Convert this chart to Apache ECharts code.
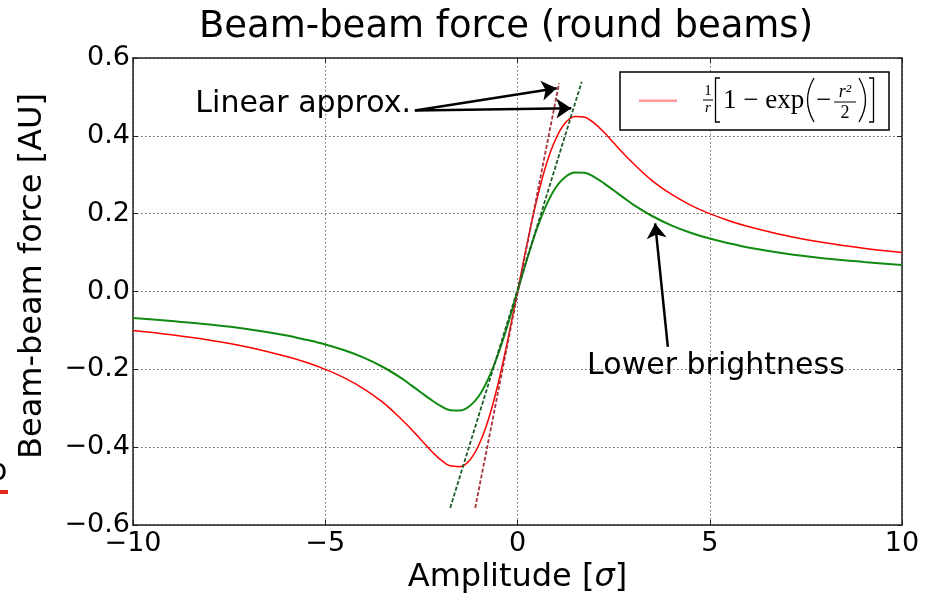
<!DOCTYPE html>
<html><head><meta charset="utf-8">
<script src="https://cdn.jsdelivr.net/npm/echarts@6/dist/echarts.min.js"></script>
<style>html,body{margin:0;padding:0;background:#fff}#c{width:926px;height:600px}</style>
</head><body><div id="c"></div>
<script>
// Amplitude [sigma]
const amplitude = [-10,-9,-8,-7,-6,-5.5,-5,-4.5,-4,-3.5,-3,-2.75,-2.5,-2.25,-2,-1.75,-1.5,-1.25,-1,-0.75,-0.5,-0.25,0,0.25,0.5,0.75,1,1.25,1.5,1.75,2,2.25,2.5,2.75,3,3.5,4,4.5,5,5.5,6,7,8,9,10];
// nominal beam-beam force (red)
const forceNominal = [-0.100,-0.111,-0.125,-0.143,-0.167,-0.182,-0.200,-0.222,-0.250,-0.285,-0.330,-0.355,-0.382,-0.409,-0.432,-0.448,-0.450,-0.434,-0.393,-0.327,-0.235,-0.123,0,0.123,0.235,0.327,0.393,0.434,0.450,0.448,0.432,0.409,0.382,0.355,0.330,0.285,0.250,0.222,0.200,0.182,0.167,0.143,0.125,0.111,0.100];
// lower brightness (green)
const forceLower = [-0.068,-0.076,-0.085,-0.097,-0.113,-0.124,-0.136,-0.151,-0.170,-0.194,-0.224,-0.242,-0.260,-0.278,-0.294,-0.305,-0.306,-0.295,-0.268,-0.222,-0.160,-0.084,0,0.084,0.160,0.222,0.268,0.295,0.306,0.305,0.294,0.278,0.260,0.242,0.224,0.194,0.170,0.151,0.136,0.124,0.113,0.097,0.085,0.076,0.068];
// linear approximations (dashed)
const linNominalX = [-1.10, 1.08];
const linNominalY = [-0.556, 0.535];
const linLowerX = [-1.75, 1.67];
const linLowerY = [-0.556, 0.539];
// ticks
const xTicks = [-10, -5, 0, 5, 10];
const xTickLabels = ['\u221210', '\u22125', '0', '5', '10'];
const yTicks = [-0.6, -0.4, -0.2, 0, 0.2, 0.4, 0.6];
const yTickLabels = ['\u22120.6', '\u22120.4', '\u22120.2', '0.0', '0.2', '0.4', '0.6'];

const zip = (xs, ys) => xs.map((x, i) => [x, ys[i]]);
const lab = (ticks, labels) => v => { const i = ticks.findIndex(t => Math.abs(t - v) < 1e-9); return i >= 0 ? labels[i] : ''; };

const FONT = 'DejaVu Sans';
const chart = echarts.init(document.getElementById('c'), null, {renderer: 'canvas'});
const axisLine = {show: true, onZero: false, lineStyle: {color: '#222', width: 1.5}};
const tick = {show: true, inside: true, length: 5, lineStyle: {color: '#222', width: 1}};
const split = {show: true, lineStyle: {color: '#666', width: 1, type: [1.5, 2.5]}};

const option = {
  animation: false,
  backgroundColor: '#fff',
  grid: {left: 133, right: 24, top: 58, bottom: 75, containLabel: false},
  xAxis: [
    {type: 'value', min: -10, max: 10, interval: 5, position: 'bottom',
     axisLine, axisTick: tick, splitLine: split,
     axisLabel: {formatter: lab(xTicks, xTickLabels), fontSize: 27, color: '#000', fontFamily: FONT, margin: 5},
     name: 'Amplitude [{i|\u03c3}]', nameLocation: 'middle', nameGap: 37,
     nameTextStyle: {fontSize: 32, color: '#000', fontFamily: FONT,
       rich: {i: {fontSize: 32, fontStyle: 'italic', fontFamily: FONT, color: '#000'}}}},
    {type: 'value', min: -10, max: 10, interval: 5, position: 'top',
     axisLine, axisTick: tick, splitLine: {show: false}, axisLabel: {show: false}}
  ],
  yAxis: [
    {type: 'value', min: -0.6, max: 0.6, interval: 0.2, position: 'left',
     axisLine, axisTick: tick, splitLine: split,
     axisLabel: {formatter: lab(yTicks, yTickLabels), fontSize: 27, color: '#000', fontFamily: FONT, margin: 3}},
    {type: 'value', min: -0.6, max: 0.6, interval: 0.2, position: 'right',
     axisLine, axisTick: tick, splitLine: {show: false}, axisLabel: {show: false}}
  ],
  legend: {
    show: true, left: 639, top: 99.5, orient: 'vertical',
    padding: 0, itemWidth: 38, itemHeight: 2.5, z: 6,
    backgroundColor: 'transparent', borderWidth: 0,
    selectedMode: false,
    data: [{name: 'nominal', icon: 'rect', itemStyle: {color: '#ff9a9a', borderWidth: 0}}],
    formatter: () => '',
    textStyle: {fontSize: 12}
  },
  series: [
    {name: 'nominal', type: 'line', data: zip(amplitude, forceNominal), smooth: 0.35, showSymbol: false,
     lineStyle: {color: '#ff0000', width: 1.5}, itemStyle: {color: '#ff0000'}, z: 3},
    {name: 'lower', type: 'line', data: zip(amplitude, forceLower), smooth: 0.35, showSymbol: false,
     lineStyle: {color: '#108a10', width: 2}, itemStyle: {color: '#108a10'}, z: 3},
    {name: 'linNominal', type: 'line', data: zip(linNominalX, linNominalY), showSymbol: false,
     lineStyle: {color: '#a8323c', width: 1.8, type: [4, 2]}, z: 4},
    {name: 'linLower', type: 'line', data: zip(linLowerX, linLowerY), showSymbol: false,
     lineStyle: {color: '#1e5e28', width: 1.8, type: [4, 2]}, z: 4,
     markLine: {
       silent: true, symbol: ['none', 'arrow'], symbolSize: 15,
       label: {show: false}, lineStyle: {color: '#000', width: 2.5, type: 'solid'},
       itemStyle: {color: '#000'},
       emphasis: {disabled: true},
       data: [
         [{coord: [-2.67, 0.465]}, {coord: [1.02, 0.522]}],
         [{coord: [-2.67, 0.465]}, {coord: [1.40, 0.471]}],
         [{coord: [3.91, -0.142]}, {coord: [3.58, 0.175]}]
       ]
     }}
  ]
};
chart.setOption(option);

const p1 = chart.convertToPixel({gridIndex: 0}, [-2.77, 0.482]);
const p2 = chart.convertToPixel({gridIndex: 0}, [1.81, -0.192]);
const SERIF = 'Liberation Serif';
const Z = 20;
chart.setOption({
  graphic: [
    {type: 'text', x: 506, y: 27, z: 10, style: {text: 'Beam-beam force (round beams)', font: '37px "DejaVu Sans"', fill: '#000', textAlign: 'center', textVerticalAlign: 'middle'}},
    {type: 'text', x: 33, y: 276, rotation: Math.PI / 2, z: 10, style: {text: 'Beam-beam force [AU]', font: '32px "DejaVu Sans"', fill: '#000', textAlign: 'center', textVerticalAlign: 'middle'}},
    {type: 'text', x: p1[0], y: p1[1], z: 10, style: {text: 'Linear approx.', font: '30px "DejaVu Sans"', fill: '#000', textAlign: 'right', textVerticalAlign: 'middle'}},
    {type: 'text', x: p2[0], y: p2[1], z: 10, style: {text: 'Lower brightness', font: '30px "DejaVu Sans"', fill: '#000', textAlign: 'left', textVerticalAlign: 'middle'}},
    // legend frame
    {type: 'rect', z: 3, shape: {x: 620, y: 72, width: 269, height: 58}, style: {fill: '#fff', stroke: '#000', lineWidth: 1.5}},
    // legend math label
    {type: 'text', z: Z, x: 708, y: 91, style: {text: '1', font: '15px "' + SERIF + '"', fill: '#000', textAlign: 'center', textVerticalAlign: 'middle'}},
    {type: 'line', z: Z, shape: {x1: 703, y1: 100, x2: 713, y2: 100}, style: {stroke: '#000', lineWidth: 1}},
    {type: 'text', z: Z, x: 708, y: 108, style: {text: 'r', font: 'italic 15px "' + SERIF + '"', fill: '#000', textAlign: 'center', textVerticalAlign: 'middle'}},
    {type: 'polyline', z: Z, shape: {points: [[720, 78], [715.5, 78], [715.5, 122], [720, 122]]}, style: {stroke: '#000', lineWidth: 1.3, fill: null}},
    {type: 'text', z: Z, x: 723, y: 101, style: {text: '1 \u2212 exp', font: '27px "' + SERIF + '"', fill: '#000', textAlign: 'left', textVerticalAlign: 'middle'}},
    {type: 'bezierCurve', z: Z, shape: {x1: 814, y1: 78, cpx1: 801, cpy1: 100, x2: 814, y2: 122}, style: {stroke: '#000', lineWidth: 1.3, fill: null}},
    {type: 'text', z: Z, x: 816, y: 101, style: {text: '\u2212', font: '27px "' + SERIF + '"', fill: '#000', textAlign: 'left', textVerticalAlign: 'middle'}},
    {type: 'text', z: Z, x: 845, y: 92, style: {text: 'r\u00b2', font: 'italic 18px "' + SERIF + '"', fill: '#000', textAlign: 'center', textVerticalAlign: 'middle'}},
    {type: 'line', z: Z, shape: {x1: 834, y1: 102, x2: 856, y2: 102}, style: {stroke: '#000', lineWidth: 1}},
    {type: 'text', z: Z, x: 845, y: 113, style: {text: '2', font: '18px "' + SERIF + '"', fill: '#000', textAlign: 'center', textVerticalAlign: 'middle'}},
    {type: 'bezierCurve', z: Z, shape: {x1: 859, y1: 78, cpx1: 872, cpy1: 100, x2: 859, y2: 122}, style: {stroke: '#000', lineWidth: 1.3, fill: null}},
    {type: 'polyline', z: Z, shape: {points: [[869, 78], [873.5, 78], [873.5, 122], [869, 122]]}, style: {stroke: '#000', lineWidth: 1.3, fill: null}},
    // cropped artefact at the left edge of the source image
    {type: 'text', x: -11, y: 472, z: 10, style: {text: 'o', font: '30px "DejaVu Sans"', fill: '#000', textAlign: 'left', textVerticalAlign: 'middle'}},
    {type: 'rect', shape: {x: 0, y: 490, width: 8, height: 4}, z: 10, style: {fill: '#e0281e'}}
  ]
});
</script>
</body></html>
